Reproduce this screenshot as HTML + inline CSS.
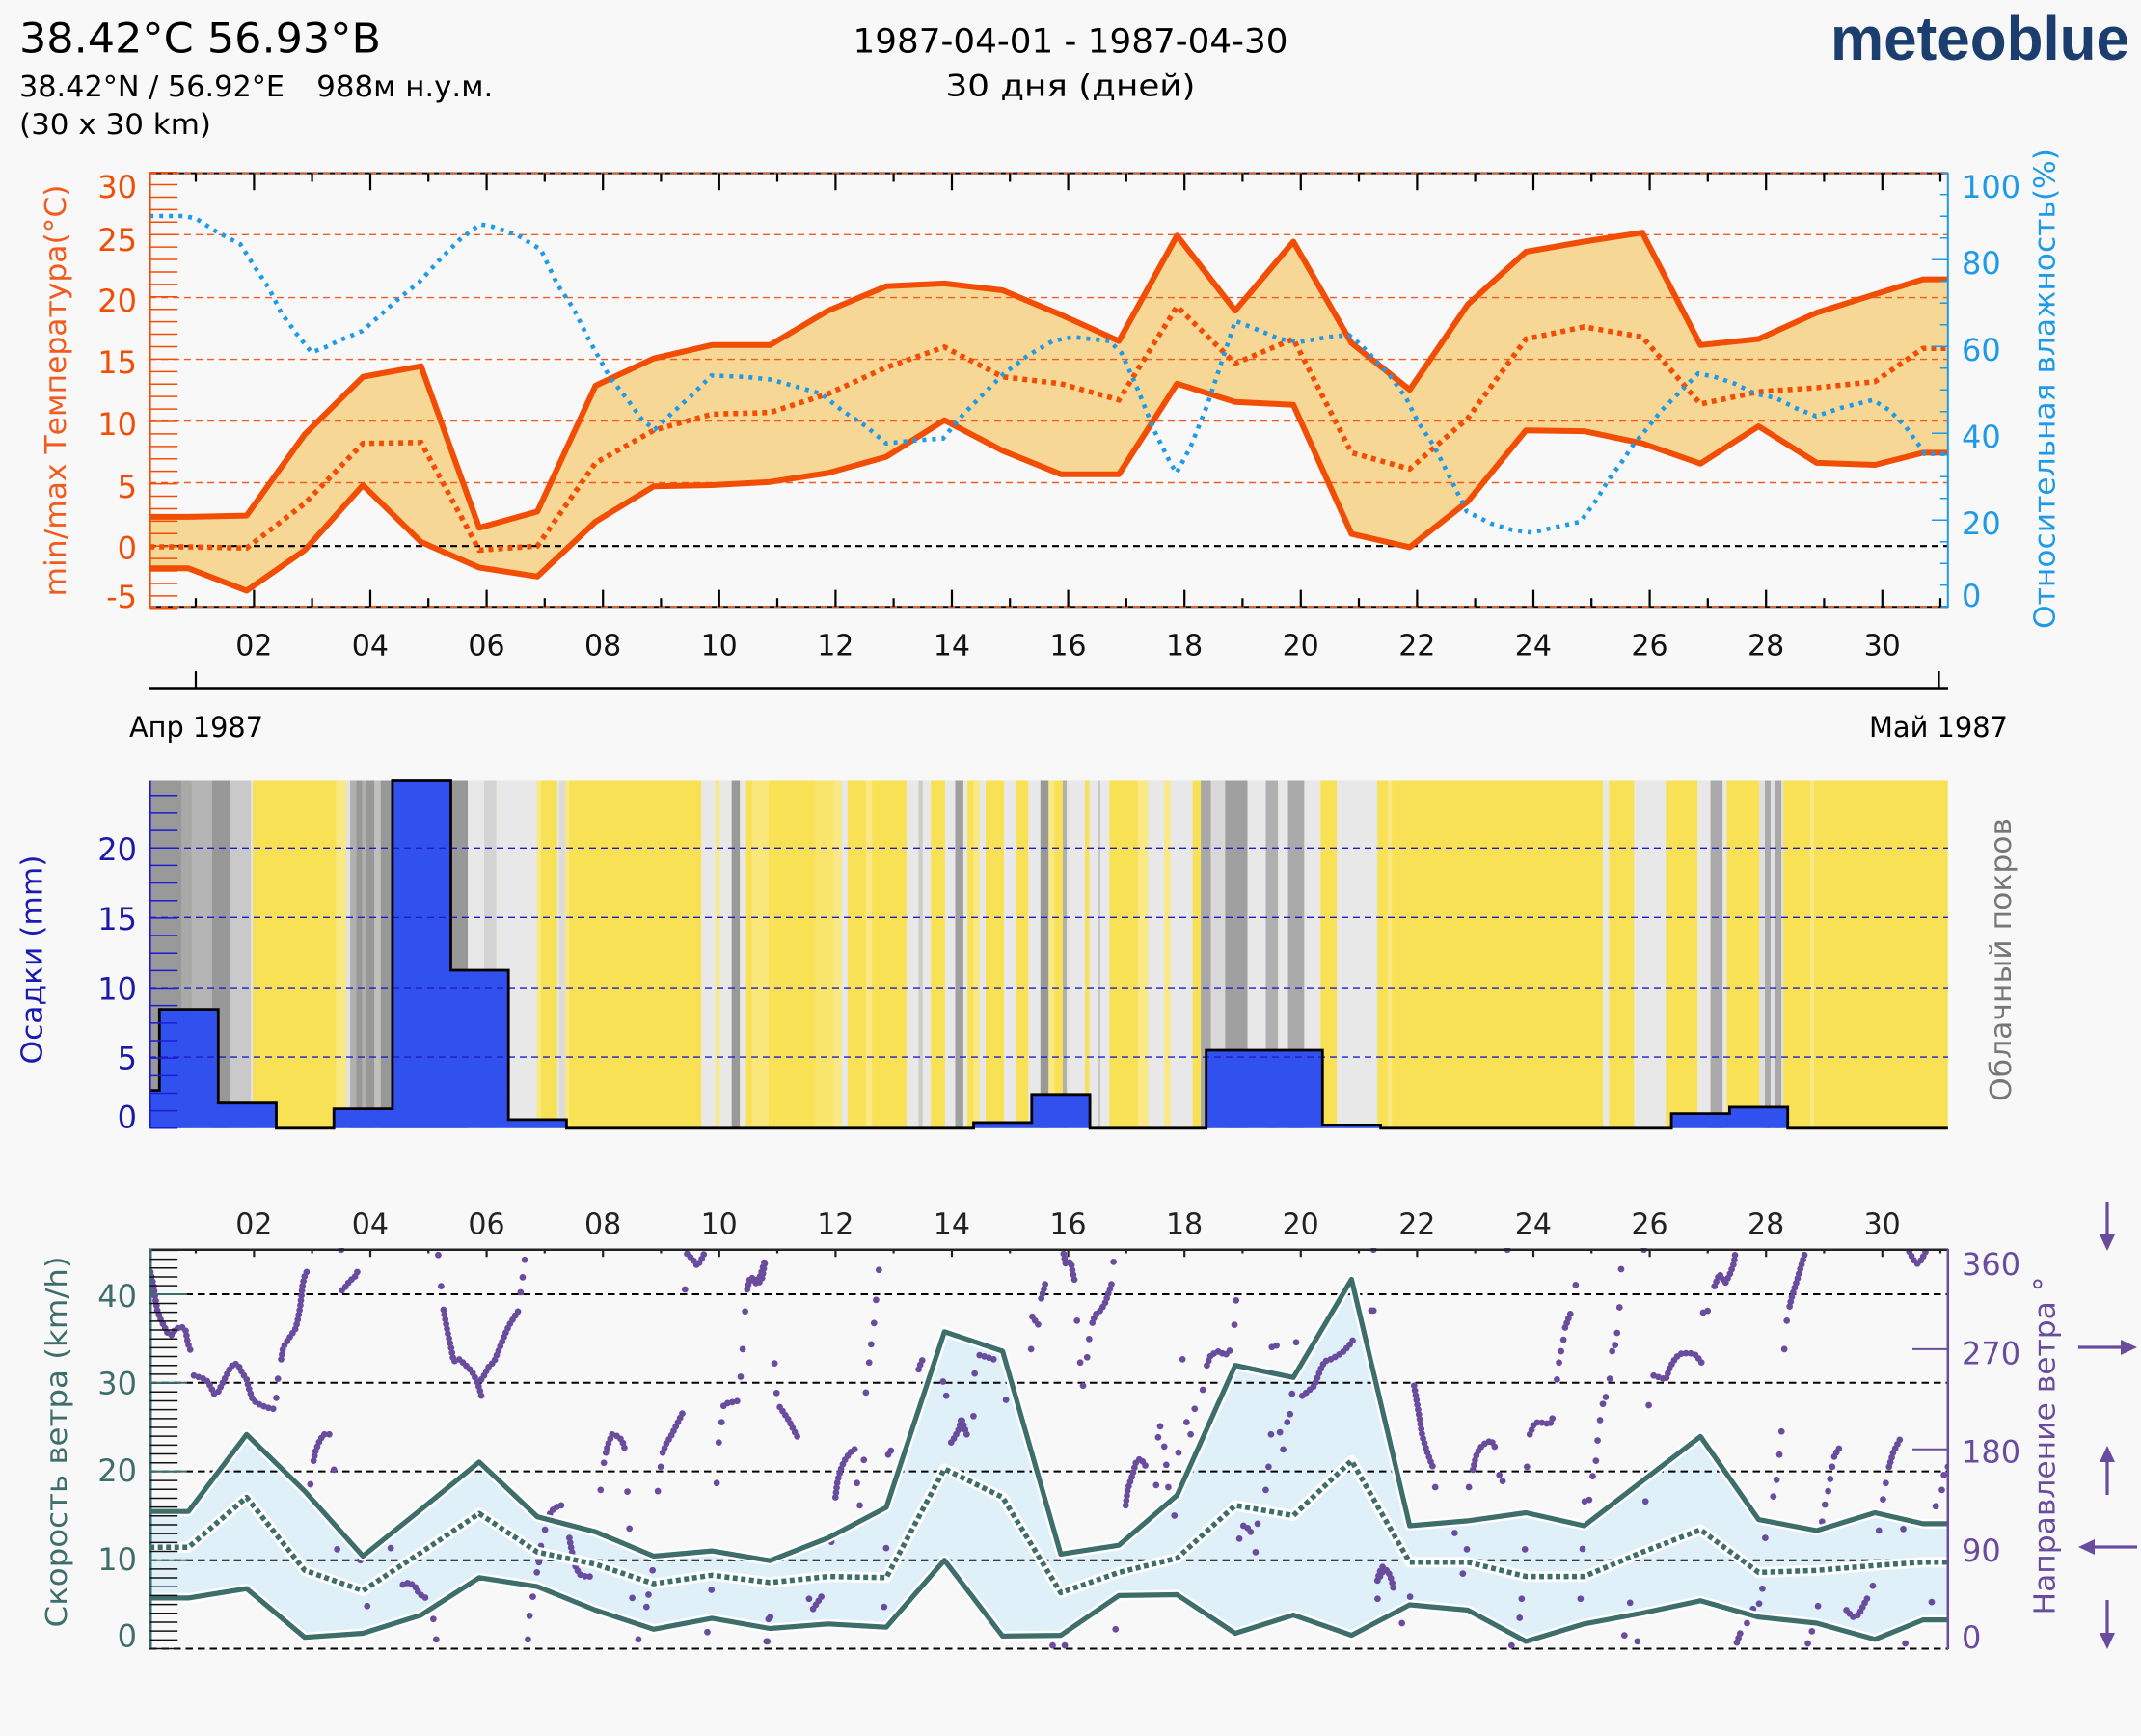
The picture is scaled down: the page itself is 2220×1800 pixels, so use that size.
<!DOCTYPE html>
<html><head><meta charset="utf-8"><style>
html,body{margin:0;padding:0;background:#f8f8f8;}
svg{display:block;}
text{font-family:"DejaVu Sans","Liberation Sans",sans-serif;}
</style></head><body>
<svg xmlns="http://www.w3.org/2000/svg" width="2220" height="1800" viewBox="0 0 2220 1800">
<defs>
<clipPath id="tc"><rect x="155" y="179" width="1865" height="451"/></clipPath>
<clipPath id="wc"><rect x="155" y="1294" width="1865" height="417"/></clipPath>
</defs>
<rect width="2220" height="1800" fill="#f8f8f8"/>

<!-- HEADER -->
<text x="20" y="54.5" font-size="43" fill="#000" textLength="375" lengthAdjust="spacingAndGlyphs">38.42°C 56.93°B</text>
<text x="20" y="100" font-size="30" fill="#000" textLength="275" lengthAdjust="spacingAndGlyphs">38.42°N / 56.92°E</text>
<text x="328.3" y="100" font-size="30" fill="#000" textLength="183" lengthAdjust="spacingAndGlyphs">988м н.у.м.</text>
<text x="20" y="139" font-size="29" fill="#000" textLength="199" lengthAdjust="spacingAndGlyphs">(30 x 30 km)</text>
<text x="1110" y="54.5" font-size="35" fill="#000" text-anchor="middle" textLength="451" lengthAdjust="spacingAndGlyphs">1987-04-01 - 1987-04-30</text>
<text x="1110" y="99.5" font-size="31" fill="#000" text-anchor="middle" textLength="259" lengthAdjust="spacingAndGlyphs">30 дня (дней)</text>
<text x="1898" y="62" font-size="64" font-weight="bold" fill="#1c3e6e" style="font-family:'Liberation Sans',sans-serif" textLength="310" lengthAdjust="spacingAndGlyphs">meteoblue</text>

<!-- TOP CHART -->
<g clip-path="url(#tc)">
<polygon fill="#f7d795" points="155.2,535.9 195.4,535.9 255.7,534.6 316.0,450.4 376.3,390.7 436.6,379.7 496.9,547.2 557.2,530.4 617.5,399.9 677.8,371.7 738.1,357.8 798.4,357.8 858.7,322.1 919.0,296.8 979.3,293.9 1039.6,301.0 1099.9,326.3 1160.2,353.6 1220.5,244.2 1280.8,322.1 1341.1,250.5 1401.4,355.7 1461.7,404.1 1522.0,315.7 1582.3,261.0 1642.6,250.5 1702.9,241.2 1763.2,357.8 1823.5,351.5 1883.8,324.2 1944.1,305.2 1994,289.6 2019.8,289.6 2019.8,469.4 1994,469.4 1944.1,482.0 1883.8,479.9 1823.5,442.0 1763.2,480.7 1702.9,459.7 1642.6,447.1 1582.3,446.2 1522.0,519.9 1461.7,567.4 1401.4,553.6 1341.1,419.7 1280.8,416.8 1220.5,397.8 1160.2,491.7 1099.9,491.7 1039.6,467.3 979.3,435.7 919.0,473.6 858.7,490.4 798.4,499.7 738.1,503.0 677.8,504.3 617.5,540.9 557.2,597.8 496.9,588.5 436.6,562.0 376.3,503.0 316.0,570.4 255.7,612.5 195.4,589.3 155.2,589.3"/>
<g stroke="#f25a1e" stroke-width="1.4" stroke-dasharray="7 5" fill="none">
<line x1="155" y1="243.3" x2="2020" y2="243.3"/>
<line x1="155" y1="308.6" x2="2020" y2="308.6"/>
<line x1="155" y1="372.6" x2="2020" y2="372.6"/>
<line x1="155" y1="436.5" x2="2020" y2="436.5"/>
<line x1="155" y1="500.5" x2="2020" y2="500.5"/>
</g>
<line x1="155" y1="566.2" x2="2020" y2="566.2" stroke="#000" stroke-width="2.2" stroke-dasharray="7 5"/>
<polyline fill="none" stroke="#f24d05" stroke-width="6" stroke-linejoin="round" points="155.2,535.9 195.4,535.9 255.7,534.6 316.0,450.4 376.3,390.7 436.6,379.7 496.9,547.2 557.2,530.4 617.5,399.9 677.8,371.7 738.1,357.8 798.4,357.8 858.7,322.1 919.0,296.8 979.3,293.9 1039.6,301.0 1099.9,326.3 1160.2,353.6 1220.5,244.2 1280.8,322.1 1341.1,250.5 1401.4,355.7 1461.7,404.1 1522.0,315.7 1582.3,261.0 1642.6,250.5 1702.9,241.2 1763.2,357.8 1823.5,351.5 1883.8,324.2 1944.1,305.2 1994,289.6 2019.8,289.6"/>
<polyline fill="none" stroke="#f24d05" stroke-width="6" stroke-linejoin="round" points="155.2,589.3 195.4,589.3 255.7,612.5 316.0,570.4 376.3,503.0 436.6,562.0 496.9,588.5 557.2,597.8 617.5,540.9 677.8,504.3 738.1,503.0 798.4,499.7 858.7,490.4 919.0,473.6 979.3,435.7 1039.6,467.3 1099.9,491.7 1160.2,491.7 1220.5,397.8 1280.8,416.8 1341.1,419.7 1401.4,553.6 1461.7,567.4 1522.0,519.9 1582.3,446.2 1642.6,447.1 1702.9,459.7 1763.2,480.7 1823.5,442.0 1883.8,479.9 1944.1,482.0 1994,469.4 2019.8,469.4"/>
<polyline fill="none" stroke="#f24d05" stroke-width="5.5" stroke-dasharray="5 5" points="155.2,567.0 195.4,567.0 255.7,568.3 316.0,522.0 376.3,459.7 436.6,458.8 496.9,570.4 557.2,566.2 617.5,479.9 677.8,446.2 738.1,429.4 798.4,427.7 858.7,408.3 919.0,381.0 979.3,359.9 1039.6,390.7 1099.9,397.8 1160.2,414.7 1220.5,317.8 1280.8,376.8 1341.1,351.5 1401.4,469.4 1461.7,486.2 1522.0,433.6 1582.3,351.5 1642.6,338.9 1702.9,349.4 1763.2,418.9 1823.5,406.2 1883.8,402.0 1944.1,395.7 1994,361.2 2019.8,361.2"/>
<polyline fill="none" stroke="#1e9ae8" stroke-width="4.6" stroke-dasharray="4 6" points="155.2,224.0 190.5,224.0 203.1,226.5 224.2,240.0 249.4,253.4 262.1,273.6 278.9,298.9 291.5,324.2 308.4,347.3 323.1,365.4 337.8,359.9 350.5,353.6 375.7,343.1 392.5,328.4 413.6,309.4 434.6,292.6 455.7,269.4 476.7,248.4 497.8,232.4 510.4,234.9 535.7,243.3 560.9,258.9 577.8,294.7 594.6,319.9 611.4,353.6 632.5,391.5 649.3,412.5 666.1,435.7 678.8,445.4 695.6,429.4 716.7,410.4 737.7,389.4 771.4,390.7 800.0,393.6 822.1,399.9 851.6,408.3 872.6,425.2 897.9,442.0 918.9,459.7 948.4,456.7 977.8,454.6 998.9,429.4 1019.9,408.3 1041.0,387.3 1066.2,368.4 1091.5,353.6 1112.5,349.4 1150.4,353.6 1163.0,366.2 1179.9,404.1 1196.7,446.2 1213.5,479.9 1219.9,490.4 1234.6,463.1 1251.4,421.0 1268.3,370.5 1280.9,332.6 1301.9,341.0 1327.2,351.5 1348.2,354.5 1377.7,349.4 1398.7,347.3 1411.4,357.8 1441.0,389.4 1457.9,412.5 1470.5,437.8 1487.3,463.1 1504.2,496.7 1521.0,530.4 1546.3,543.0 1567.3,549.3 1588.4,552.3 1613.6,546.4 1638.9,540.9 1655.7,517.8 1668.3,496.7 1681.0,479.9 1693.6,461.0 1706.2,446.2 1723.1,425.2 1744.1,404.1 1760.9,387.3 1777.8,390.7 1798.8,397.8 1819.9,408.3 1840.9,412.5 1862.0,423.1 1883.0,431.5 1908.3,423.1 1941.9,414.7 1958.8,425.2 1975.6,442.0 1992.4,465.2 1995.8,470.6 2019.8,470.6"/>
</g>
<!-- top chart frame -->
<line x1="155" y1="179.6" x2="2020" y2="179.6" stroke="#000" stroke-width="2"/>
<line x1="155" y1="179.6" x2="2020" y2="179.6" stroke="#f25a1e" stroke-width="1.5" stroke-dasharray="7 5"/>
<line x1="155" y1="629.3" x2="2020" y2="629.3" stroke="#000" stroke-width="2"/>
<line x1="155" y1="629.3" x2="2020" y2="629.3" stroke="#f25a1e" stroke-width="1.5" stroke-dasharray="7 5"/>
<line x1="155.6" y1="179" x2="155.6" y2="630" stroke="#f24d05" stroke-width="2"/>
<line x1="2019.8" y1="179" x2="2019.8" y2="630" stroke="#1e9ae8" stroke-width="2"/>
<line x1="169.8" y1="631.55" x2="169.8" y2="178" stroke="#f24d05" stroke-width="28.8" stroke-dasharray="1.5 11.42"/>
<line x1="2015.8" y1="630.05" x2="2015.8" y2="179" stroke="#1e9ae8" stroke-width="8" stroke-dasharray="1.5 21"/>
<g stroke="#1e9ae8" stroke-width="1.5">
<line x1="2003" y1="539.3" x2="2020" y2="539.3"/><line x1="2003" y1="449.3" x2="2020" y2="449.3"/>
<line x1="2003" y1="359.3" x2="2020" y2="359.3"/><line x1="2003" y1="269.3" x2="2020" y2="269.3"/>
</g>
<line x1="262.3" y1="188.45" x2="2020" y2="188.45" stroke="#000" stroke-width="17.7" stroke-dasharray="2.2 118.4"/>
<line x1="201.9" y1="184" x2="2020" y2="184" stroke="#000" stroke-width="9" stroke-dasharray="2.2 118.4"/>
<line x1="262.3" y1="620.45" x2="2020" y2="620.45" stroke="#000" stroke-width="17.7" stroke-dasharray="2.2 118.4"/>
<line x1="201.9" y1="624.8" x2="2020" y2="624.8" stroke="#000" stroke-width="9" stroke-dasharray="2.2 118.4"/>

<g font-size="32" fill="#f24d05" text-anchor="end">
<text x="142" y="205">30</text><text x="142" y="260">25</text><text x="142" y="323">20</text>
<text x="142" y="387">15</text><text x="142" y="451">10</text><text x="142" y="516">5</text>
<text x="142" y="579.5">0</text><text x="142" y="630">-5</text>
</g>
<g font-size="32" fill="#1e9ae8">
<text x="2034" y="205">100</text><text x="2034" y="284">80</text><text x="2034" y="374">60</text>
<text x="2034" y="464">40</text><text x="2034" y="554">20</text><text x="2034" y="629">0</text>
</g>
<g font-size="30" fill="#111" text-anchor="middle">
<text x="263.3" y="679.5">02</text><text x="383.9" y="679.5">04</text><text x="504.5" y="679.5">06</text>
<text x="625.1" y="679.5">08</text><text x="745.7" y="679.5">10</text><text x="866.3" y="679.5">12</text>
<text x="986.9" y="679.5">14</text><text x="1107.5" y="679.5">16</text><text x="1228.1" y="679.5">18</text>
<text x="1348.7" y="679.5">20</text><text x="1469.3" y="679.5">22</text><text x="1589.9" y="679.5">24</text>
<text x="1710.5" y="679.5">26</text><text x="1831.1" y="679.5">28</text><text x="1951.7" y="679.5">30</text>
</g>
<text transform="translate(58.5,405) rotate(-90)" font-size="30" fill="#f25a1e" text-anchor="middle" dominant-baseline="central" textLength="427" lengthAdjust="spacingAndGlyphs">min/max Температура(°C)</text>
<text transform="translate(2121,403) rotate(-90)" font-size="30" fill="#1e9ae8" text-anchor="middle" dominant-baseline="central" textLength="498" lengthAdjust="spacingAndGlyphs">Относительная влажность(%)</text>

<!-- timeline -->
<line x1="155" y1="713.5" x2="2020" y2="713.5" stroke="#000" stroke-width="2.5"/>
<line x1="203" y1="696" x2="203" y2="713.5" stroke="#000" stroke-width="2.2"/>
<line x1="2010.5" y1="696" x2="2010.5" y2="713.5" stroke="#000" stroke-width="2.2"/>
<text x="134" y="764" font-size="29" fill="#000" textLength="139" lengthAdjust="spacingAndGlyphs">Апр 1987</text>
<text x="2010" y="764" font-size="29" fill="#000" text-anchor="middle" textLength="144" lengthAdjust="spacingAndGlyphs">Май 1987</text>

<!-- PRECIP / CLOUD -->
<rect x="155.2" y="809.5" width="1864.6" height="360.3" fill="#f9e155"/>
<g>
<rect x="155.2" y="809.5" width="33.2" height="360.3" fill="#999"/>
<rect x="188.4" y="809.5" width="10.5" height="360.3" fill="#a9a9a9"/>
<rect x="198.9" y="809.5" width="21.1" height="360.3" fill="#b5b5b5"/>
<rect x="220.0" y="809.5" width="18.9" height="360.3" fill="#989898"/>
<rect x="238.9" y="809.5" width="21.1" height="360.3" fill="#c9c9c9"/>
<rect x="260.0" y="809.5" width="2.1" height="360.3" fill="#e2e2e2"/>
<rect x="348.4" y="809.5" width="10.5" height="360.3" fill="#f9e884"/>
<rect x="358.9" y="809.5" width="4.2" height="360.3" fill="#e2e2e2"/>
<rect x="363.1" y="809.5" width="6.3" height="360.3" fill="#b0b0b0"/>
<rect x="369.4" y="809.5" width="6.3" height="360.3" fill="#989898"/>
<rect x="375.7" y="809.5" width="4.2" height="360.3" fill="#b0b0b0"/>
<rect x="379.9" y="809.5" width="8.4" height="360.3" fill="#989898"/>
<rect x="388.3" y="809.5" width="6.4" height="360.3" fill="#c0c0c0"/>
<rect x="394.7" y="809.5" width="90.4" height="360.3" fill="#989898"/>
<rect x="485.1" y="809.5" width="16.9" height="360.3" fill="#e8e8e8"/>
<rect x="502.0" y="809.5" width="12.6" height="360.3" fill="#d4d4d4"/>
<rect x="514.6" y="809.5" width="42.1" height="360.3" fill="#e8e8e8"/>
<rect x="556.7" y="809.5" width="4.2" height="360.3" fill="#f9e884"/>
<rect x="577.8" y="809.5" width="2.0" height="360.3" fill="#e8e8e8"/>
<rect x="579.8" y="809.5" width="6.4" height="360.3" fill="#dcdcdc"/>
<rect x="586.2" y="809.5" width="4.2" height="360.3" fill="#f9e884"/>
<rect x="727.2" y="809.5" width="14.7" height="360.3" fill="#e8e8e8"/>
<rect x="741.9" y="809.5" width="4.2" height="360.3" fill="#f9e884"/>
<rect x="746.1" y="809.5" width="12.6" height="360.3" fill="#e8e8e8"/>
<rect x="758.7" y="809.5" width="8.5" height="360.3" fill="#999"/>
<rect x="767.2" y="809.5" width="6.3" height="360.3" fill="#e8e8e8"/>
<rect x="779.8" y="809.5" width="17.0" height="360.3" fill="#f9e77c"/>
<rect x="845.2" y="809.5" width="19.0" height="360.3" fill="#f9e46c"/>
<rect x="864.2" y="809.5" width="8.4" height="360.3" fill="#f9e884"/>
<rect x="872.6" y="809.5" width="6.3" height="360.3" fill="#e8e8e8"/>
<rect x="897.9" y="809.5" width="6.3" height="360.3" fill="#f9e884"/>
<rect x="940.0" y="809.5" width="12.6" height="360.3" fill="#e8e8e8"/>
<rect x="952.6" y="809.5" width="4.2" height="360.3" fill="#cccccc"/>
<rect x="956.8" y="809.5" width="8.4" height="360.3" fill="#e8e8e8"/>
<rect x="979.9" y="809.5" width="10.6" height="360.3" fill="#e8e8e8"/>
<rect x="990.5" y="809.5" width="8.4" height="360.3" fill="#a0a0a0"/>
<rect x="998.9" y="809.5" width="4.2" height="360.3" fill="#e8e8e8"/>
<rect x="1009.4" y="809.5" width="6.3" height="360.3" fill="#f9e884"/>
<rect x="1015.7" y="809.5" width="6.3" height="360.3" fill="#e8e8e8"/>
<rect x="1041.0" y="809.5" width="12.6" height="360.3" fill="#e8e8e8"/>
<rect x="1066.2" y="809.5" width="12.6" height="360.3" fill="#e8e8e8"/>
<rect x="1078.8" y="809.5" width="8.5" height="360.3" fill="#999"/>
<rect x="1087.3" y="809.5" width="6.3" height="360.3" fill="#f9e884"/>
<rect x="1102.0" y="809.5" width="4.2" height="360.3" fill="#b0b0b0"/>
<rect x="1106.2" y="809.5" width="18.9" height="360.3" fill="#e8e8e8"/>
<rect x="1129.4" y="809.5" width="21.0" height="360.3" fill="#e8e8e8"/>
<rect x="1138" y="809.5" width="3" height="360.3" fill="#c8c8c8"/>
<rect x="1179.9" y="809.5" width="10.5" height="360.3" fill="#f9e884"/>
<rect x="1190.4" y="809.5" width="16.8" height="360.3" fill="#e8e8e8"/>
<rect x="1207.2" y="809.5" width="6.3" height="360.3" fill="#f9e884"/>
<rect x="1213.5" y="809.5" width="23.2" height="360.3" fill="#e8e8e8"/>
<rect x="1245.1" y="809.5" width="10.5" height="360.3" fill="#a8a8a8"/>
<rect x="1255.6" y="809.5" width="14.8" height="360.3" fill="#d8d8d8"/>
<rect x="1270.4" y="809.5" width="23.1" height="360.3" fill="#a0a0a0"/>
<rect x="1293.5" y="809.5" width="19.0" height="360.3" fill="#e8e8e8"/>
<rect x="1312.5" y="809.5" width="12.6" height="360.3" fill="#b0b0b0"/>
<rect x="1325.1" y="809.5" width="10.5" height="360.3" fill="#e8e8e8"/>
<rect x="1335.6" y="809.5" width="16.8" height="360.3" fill="#aaaaaa"/>
<rect x="1352.4" y="809.5" width="16.9" height="360.3" fill="#e8e8e8"/>
<rect x="1386.1" y="809.5" width="42.1" height="360.3" fill="#e8e8e8"/>
<rect x="1438.9" y="809.5" width="4.3" height="360.3" fill="#f9e884"/>
<rect x="1662.0" y="809.5" width="6.3" height="360.3" fill="#e8e8e8"/>
<rect x="1694.4" y="809.5" width="32.9" height="360.3" fill="#e8e8e8"/>
<rect x="1760.1" y="809.5" width="13.5" height="360.3" fill="#e8e8e8"/>
<rect x="1773.6" y="809.5" width="12.6" height="360.3" fill="#aaaaaa"/>
<rect x="1786.2" y="809.5" width="4.2" height="360.3" fill="#e8e8e8"/>
<rect x="1824.1" y="809.5" width="6" height="360.3" fill="#e0e0e0"/>
<rect x="1830" y="809.5" width="6" height="360.3" fill="#aaaaaa"/>
<rect x="1836" y="809.5" width="5" height="360.3" fill="#e0e0e0"/>
<rect x="1841" y="809.5" width="6.2" height="360.3" fill="#a8a8a8"/>
<rect x="1847.2" y="809.5" width="2.1" height="360.3" fill="#e0e0e0"/>
<rect x="1876.7" y="809.5" width="4.2" height="360.3" fill="#f9e884"/>
</g>
<path fill="#3151ee" d="M155.2,1169.8 V1130.6 H165.3 V1046.6 H226.3 V1143.7 H286.5 V1169.8 H346.2 V1149.6 H406.9 V809.5 H467.5 V1006.0 H527.2 V1160.9 H587.4 V1169.8 H1009.5 V1163.9 H1069.8 V1134.8 H1130.1 V1169.8 H1250.7 V1089.0 H1371.3 V1166.4 H1431.6 V1169.8 H1733.1 V1154.6 H1793.4 V1147.9 H1853.7 V1169.8 Z"/>
<g stroke="#1c1cc8" stroke-width="1.4" stroke-dasharray="7 5" fill="none">
<line x1="155" y1="879.3" x2="2020" y2="879.3"/>
<line x1="155" y1="951.3" x2="2020" y2="951.3"/>
<line x1="155" y1="1024.1" x2="2020" y2="1024.1"/>
<line x1="155" y1="1096.1" x2="2020" y2="1096.1"/>
</g>
<path fill="none" stroke="#000" stroke-width="2.8" d="M155.2,1130.6 H165.3 V1046.6 H226.3 V1143.7 H286.5 V1169.8 H346.2 V1149.6 H406.9 V809.5 H467.5 V1006.0 H527.2 V1160.9 H587.4 V1169.8 H1009.5 V1163.9 H1069.8 V1134.8 H1130.1 V1169.8 H1250.7 V1089.0 H1371.3 V1166.4 H1431.6 V1169.8 H1733.1 V1154.6 H1793.4 V1147.9 H1853.7 V1169.8 H2019.8"/>
<line x1="155.6" y1="809.5" x2="155.6" y2="1170" stroke="#1c1cd0" stroke-width="2"/>
<line x1="169.8" y1="1170.55" x2="169.8" y2="812" stroke="#1c1cd0" stroke-width="28.8" stroke-dasharray="1.5 16.66"/>
<g font-size="32" fill="#1a1aa8" text-anchor="end">
<text x="142" y="892">20</text><text x="142" y="964">15</text><text x="142" y="1036.5">10</text>
<text x="142" y="1108.5">5</text><text x="142" y="1169.5">0</text>
</g>
<text transform="translate(34,995) rotate(-90)" font-size="30" fill="#1a1ab4" text-anchor="middle" dominant-baseline="central" textLength="217" lengthAdjust="spacingAndGlyphs">Осадки (mm)</text>
<text transform="translate(2075.6,995) rotate(-90)" font-size="30" fill="#777" text-anchor="middle" dominant-baseline="central" textLength="294" lengthAdjust="spacingAndGlyphs">Облачный покров</text>

<!-- WIND CHART -->
<polygon fill="#e0f0f9" points="155.2,1567.2 195.4,1567.2 255.7,1487.3 316.0,1546.2 376.3,1613.5 436.6,1565.1 496.9,1515.9 557.2,1572.7 617.5,1588.3 677.8,1613.5 738.1,1608.1 798.4,1618.2 858.7,1594.6 919.0,1563.0 979.3,1380.8 1039.6,1401.0 1099.9,1611.4 1160.2,1602.2 1220.5,1550.4 1280.8,1415.7 1341.1,1428.3 1401.4,1326.5 1461.7,1582.0 1522.0,1576.9 1582.3,1568.5 1642.6,1582.0 1702.9,1535.7 1763.2,1489.4 1823.5,1575.6 1883.8,1587.0 1944.1,1568.5 1994,1579.9 2019.8,1579.9 2019.8,1679.6 1994,1679.6 1944.1,1699.8 1883.8,1683.0 1823.5,1676.7 1763.2,1659.8 1702.9,1672.5 1642.6,1683.8 1582.3,1701.9 1522.0,1669.5 1461.7,1664.0 1401.4,1695.6 1341.1,1674.6 1280.8,1693.5 1220.5,1653.5 1160.2,1654.4 1099.9,1695.6 1039.6,1696.4 979.3,1617.7 919.0,1687.2 858.7,1683.8 798.4,1688.5 738.1,1677.9 677.8,1689.3 617.5,1669.5 557.2,1645.1 496.9,1635.8 436.6,1674.6 376.3,1693.5 316.0,1697.7 255.7,1647.2 195.4,1656.9 155.2,1656.9"/>
<g stroke="#000" stroke-width="2" stroke-dasharray="7.5 5" fill="none">
<line x1="155" y1="1342.0" x2="2020" y2="1342.0"/>
<line x1="155" y1="1433.8" x2="2020" y2="1433.8"/>
<line x1="155" y1="1525.6" x2="2020" y2="1525.6"/>
<line x1="155" y1="1617.7" x2="2020" y2="1617.7"/>
<line x1="155" y1="1709.5" x2="2020" y2="1709.5"/>
</g>
<!-- wind direction dots -->
<g clip-path="url(#wc)" fill="#6a4c9e" stroke="#6a4c9e">
<g transform="translate(140,1140) scale(0.42091)">
<g fill="none" stroke-width="16" stroke-linecap="round" stroke-linejoin="round" stroke-dasharray="0 12">
<polyline points="38,425 45,455 50,490 55,520 62,540 70,555 80,575 90,580 100,565 115,560 125,570 130,600 138,622"/>
<polyline points="145,680 160,685 175,690 185,705 195,725 205,720 215,700 225,680 235,660 245,650 255,655 265,675 275,690 280,710 290,740 300,748 315,755 330,760 345,763"/>
<polyline points="360,640 365,610 375,595 385,580 395,565 400,548 407,510 413,455 418,435 425,420"/>
<polyline points="440,890 445,865 455,840 465,825 480,825 490,825"/>
<polyline points="510,470 520,460 530,445 540,440 550,420"/>
<polyline points="660,1195 675,1190 690,1200 700,1218 720,1230"/>
<polyline points="760,518 765,545 770,573 778,608 785,645 800,640 815,655 830,670 840,690 848,710 853,730"/>
<polyline points="853,690 860,680 870,660 885,645 895,620 905,595 915,570 925,550 935,535 945,520"/>
<polyline points="1015,1030 1030,1010 1045,1000 1060,1000"/>
<polyline points="1070,1080 1075,1108 1085,1150 1095,1170 1110,1175 1125,1175"/>
<polyline points="1160,870 1165,850 1175,825 1190,830 1200,840 1207,862"/>
<polyline points="1300,870 1310,845 1320,830 1330,810 1340,790 1350,770"/>
<polyline points="1360,380 1375,395 1385,410 1395,395 1405,373"/>
<polyline points="1450,755 1460,748 1475,745 1488,742"/>
<polyline points="1508,468 1515,440 1525,450 1535,455 1545,440 1552,400"/>
</g>
<g stroke="none">
<circle cx="348" cy="735" r="8"/><circle cx="352" cy="688" r="8"/><circle cx="490" cy="912" r="8"/><circle cx="432" cy="948" r="8"/>
<circle cx="508" cy="370" r="8"/><circle cx="498" cy="1108" r="8"/><circle cx="555" cy="1135" r="8"/><circle cx="572" cy="1248" r="8"/>
<circle cx="630" cy="1105" r="8"/><circle cx="735" cy="1280" r="8"/><circle cx="742" cy="1330" r="8"/><circle cx="747" cy="383" r="8"/>
<circle cx="754" cy="460" r="8"/><circle cx="950" cy="475" r="8"/><circle cx="955" cy="438" r="8"/><circle cx="960" cy="395" r="8"/>
<circle cx="1010" cy="1060" r="8"/><circle cx="1000" cy="1100" r="8"/><circle cx="995" cy="1140" r="8"/><circle cx="990" cy="1165" r="8"/>
<circle cx="980" cy="1225" r="8"/><circle cx="972" cy="1272" r="8"/><circle cx="968" cy="1330" r="8"/><circle cx="1147" cy="962" r="8"/>
<circle cx="1155" cy="895" r="8"/><circle cx="1213" cy="966" r="8"/><circle cx="1218" cy="1057" r="8"/><circle cx="1225" cy="1228" r="8"/>
<circle cx="1240" cy="1330" r="8"/><circle cx="1260" cy="1250" r="8"/><circle cx="1265" cy="1220" r="8"/><circle cx="1275" cy="1160" r="8"/>
<circle cx="1288" cy="965" r="8"/><circle cx="1295" cy="905" r="8"/><circle cx="1355" cy="468" r="8"/><circle cx="1410" cy="1312" r="8"/>
<circle cx="1420" cy="1208" r="8"/><circle cx="1433" cy="945" r="8"/><circle cx="1438" cy="845" r="8"/><circle cx="1445" cy="795" r="8"/>
<circle cx="1492" cy="683" r="8"/><circle cx="1497" cy="615" r="8"/><circle cx="1503" cy="522" r="8"/><circle cx="1558" cy="1335" r="8"/>
<circle cx="1565" cy="1275" r="8"/>
</g>
</g>
<g transform="translate(780,1140) scale(0.42091)">
<g fill="none" stroke-width="16" stroke-linecap="round" stroke-linejoin="round" stroke-dasharray="0 12">
<polyline points="0,440 10,445 20,435 30,400"/>
<polyline points="68,758 80,775 90,790 100,810 108,825 115,838"/>
<polyline points="150,1255 160,1240 175,1218"/>
<polyline points="205,980 210,940 220,905 230,885 245,865 255,860"/>
<polyline points="335,875 345,860"/>
<polyline points="410,665 415,650 420,640"/>
<polyline points="490,845 500,830 510,810 515,785 530,830"/>
<polyline points="560,630 580,635 595,640"/>
<polyline points="690,535 700,550 705,555"/>
<polyline points="712,490 718,470 722,453"/>
<polyline points="767,380 772,405 785,400 790,428 795,450"/>
<polyline points="838,550 845,530 858,520 870,500 875,485 885,455"/>
<polyline points="920,1000 925,960 935,930 945,895 955,885 965,895 970,905"/>
<polyline points="1090,762 1100,760"/>
<polyline points="1120,655 1130,628 1140,625 1150,620 1165,630 1180,615"/>
<polyline points="1210,1050 1220,1055 1230,1068"/>
<polyline points="1280,610 1295,605"/>
<polyline points="1355,730 1370,718 1385,705 1400,665 1410,645 1425,640 1440,632 1455,622 1465,612 1475,600 1485,585"/>
<polyline points="1540,1185 1545,1165 1555,1148"/>
</g>
<g stroke="none">
<circle cx="55" cy="650" r="8"/><circle cx="60" cy="723" r="8"/><circle cx="40" cy="1280" r="8"/><circle cx="35" cy="1335" r="8"/>
<circle cx="140" cy="1230" r="8"/><circle cx="258" cy="945" r="8"/><circle cx="265" cy="1000" r="8"/><circle cx="275" cy="888" r="8"/>
<circle cx="280" cy="722" r="8"/><circle cx="288" cy="648" r="8"/><circle cx="293" cy="603" r="8"/><circle cx="300" cy="551" r="8"/>
<circle cx="305" cy="494" r="8"/><circle cx="312" cy="420" r="8"/><circle cx="195" cy="1090" r="8"/><circle cx="330" cy="1105" r="8"/>
<circle cx="325" cy="1250" r="8"/><circle cx="470" cy="695" r="8"/><circle cx="478" cy="730" r="8"/><circle cx="545" cy="780" r="8"/>
<circle cx="548" cy="675" r="8"/><circle cx="625" cy="740" r="8"/><circle cx="687" cy="615" r="8"/><circle cx="800" cy="545" r="8"/>
<circle cx="808" cy="648" r="8"/><circle cx="815" cy="705" r="8"/><circle cx="825" cy="635" r="8"/><circle cx="830" cy="590" r="8"/>
<circle cx="890" cy="400" r="8"/><circle cx="1000" cy="832" r="8"/><circle cx="1005" cy="805" r="8"/><circle cx="1015" cy="855" r="8"/>
<circle cx="1020" cy="900" r="8"/><circle cx="1025" cy="955" r="8"/><circle cx="995" cy="950" r="8"/><circle cx="1040" cy="1025" r="8"/>
<circle cx="1050" cy="870" r="8"/><circle cx="1060" cy="640" r="8"/><circle cx="1070" cy="795" r="8"/><circle cx="1080" cy="825" r="8"/>
<circle cx="1110" cy="715" r="8"/><circle cx="1188" cy="555" r="8"/><circle cx="1192" cy="495" r="8"/><circle cx="1195" cy="1000" r="8"/>
<circle cx="1200" cy="1082" r="8"/><circle cx="1240" cy="1115" r="8"/><circle cx="1245" cy="1045" r="8"/><circle cx="1265" cy="962" r="8"/>
<circle cx="1272" cy="905" r="8"/><circle cx="1278" cy="825" r="8"/><circle cx="1300" cy="820" r="8"/><circle cx="1308" cy="862" r="8"/>
<circle cx="1318" cy="795" r="8"/><circle cx="1325" cy="775" r="8"/><circle cx="1330" cy="725" r="8"/><circle cx="1340" cy="598" r="8"/>
<circle cx="1525" cy="520" r="8"/><circle cx="1528" cy="675" r="8"/><circle cx="770" cy="1345" r="8"/><circle cx="740" cy="1345" r="8"/>
<circle cx="895" cy="1305" r="8"/><circle cx="55" cy="1505" r="8"/>
</g>
</g>
<g transform="translate(1420,1140) scale(0.42091)">
<g fill="none" stroke-width="16" stroke-linecap="round" stroke-linejoin="round" stroke-dasharray="0 12">
<polyline points="110,705 115,735 120,765 125,795 130,828 140,862 150,890 158,910"/>
<polyline points="20,1185 35,1160 45,1160 55,1185 60,1210"/>
<polyline points="255,912 262,880 270,862 280,850 290,845 300,840 312,862"/>
<polyline points="395,825 405,800 415,795 430,797 445,800 455,775"/>
<polyline points="482,562 490,540 495,528 500,518"/>
<polyline points="530,990 545,985"/>
<polyline points="700,680 715,685 730,690 740,660 755,635 770,625 790,625 805,630 818,648"/>
<polyline points="822,525 835,520"/>
<polyline points="850,460 862,430 877,452 888,430 898,403 902,372"/>
<polyline points="905,1338 915,1310"/>
<polyline points="1035,510 1040,488 1048,462 1055,440 1062,415 1068,395 1075,372"/>
<polyline points="1145,880 1155,860 1165,860"/>
<polyline points="1175,1258 1190,1275 1205,1270 1215,1250 1225,1230 1235,1225"/>
<polyline points="1280,905 1290,870 1300,850 1308,835"/>
<polyline points="1330,375 1340,395 1350,405 1360,395 1370,375"/>
</g>
<g stroke="none">
<circle cx="10" cy="370" r="8"/><circle cx="10" cy="520" r="8"/><circle cx="10" cy="678" r="8"/><circle cx="162" cy="955" r="8"/>
<circle cx="20" cy="1230" r="8"/><circle cx="80" cy="1290" r="8"/><circle cx="100" cy="1225" r="8"/><circle cx="245" cy="955" r="8"/>
<circle cx="320" cy="925" r="8"/><circle cx="328" cy="940" r="8"/><circle cx="210" cy="1068" r="8"/><circle cx="230" cy="1168" r="8"/>
<circle cx="240" cy="1108" r="8"/><circle cx="340" cy="370" r="8"/><circle cx="388" cy="905" r="8"/><circle cx="462" cy="690" r="8"/>
<circle cx="467" cy="648" r="8"/><circle cx="472" cy="620" r="8"/><circle cx="478" cy="592" r="8"/><circle cx="508" cy="457" r="8"/>
<circle cx="383" cy="1108" r="8"/><circle cx="375" cy="1230" r="8"/><circle cx="370" cy="1277" r="8"/><circle cx="350" cy="1345" r="8"/>
<circle cx="525" cy="1107" r="8"/><circle cx="520" cy="1230" r="8"/><circle cx="550" cy="928" r="8"/><circle cx="558" cy="890" r="8"/>
<circle cx="562" cy="840" r="8"/><circle cx="568" cy="790" r="8"/><circle cx="575" cy="750" r="8"/><circle cx="582" cy="733" r="8"/>
<circle cx="592" cy="688" r="8"/><circle cx="598" cy="620" r="8"/><circle cx="605" cy="605" r="8"/><circle cx="610" cy="575" r="8"/>
<circle cx="616" cy="512" r="8"/><circle cx="620" cy="418" r="8"/><circle cx="628" cy="1320" r="8"/><circle cx="660" cy="1335" r="8"/>
<circle cx="642" cy="1240" r="8"/><circle cx="676" cy="370" r="8"/><circle cx="688" cy="753" r="8"/><circle cx="680" cy="990" r="8"/>
<circle cx="930" cy="1290" r="8"/><circle cx="945" cy="1255" r="8"/><circle cx="960" cy="1242" r="8"/><circle cx="968" cy="1205" r="8"/>
<circle cx="975" cy="1080" r="8"/><circle cx="985" cy="1040" r="8"/><circle cx="995" cy="978" r="8"/><circle cx="1003" cy="937" r="8"/>
<circle cx="1010" cy="875" r="8"/><circle cx="1015" cy="818" r="8"/><circle cx="1022" cy="615" r="8"/><circle cx="1028" cy="545" r="8"/>
<circle cx="1080" cy="1340" r="8"/><circle cx="1090" cy="1310" r="8"/><circle cx="1105" cy="1248" r="8"/><circle cx="1115" cy="1040" r="8"/>
<circle cx="1122" cy="998" r="8"/><circle cx="1130" cy="965" r="8"/><circle cx="1135" cy="935" r="8"/><circle cx="1140" cy="905" r="8"/>
<circle cx="1240" cy="1198" r="8"/><circle cx="1255" cy="1062" r="8"/><circle cx="1265" cy="985" r="8"/><circle cx="1272" cy="945" r="8"/>
<circle cx="1315" cy="1058" r="8"/><circle cx="1320" cy="1340" r="8"/><circle cx="1385" cy="1238" r="8"/><circle cx="1395" cy="1002" r="8"/>
<circle cx="1410" cy="962" r="8"/><circle cx="1415" cy="925" r="8"/><circle cx="1425" cy="905" r="8"/>
</g>
</g>
</g>
<!-- wind lines -->
<g fill="none" stroke-linejoin="round">
<polyline stroke="#fff" stroke-width="10" points="155.2,1567.2 195.4,1567.2 255.7,1487.3 316.0,1546.2 376.3,1613.5 436.6,1565.1 496.9,1515.9 557.2,1572.7 617.5,1588.3 677.8,1613.5 738.1,1608.1 798.4,1618.2 858.7,1594.6 919.0,1563.0 979.3,1380.8 1039.6,1401.0 1099.9,1611.4 1160.2,1602.2 1220.5,1550.4 1280.8,1415.7 1341.1,1428.3 1401.4,1326.5 1461.7,1582.0 1522.0,1576.9 1582.3,1568.5 1642.6,1582.0 1702.9,1535.7 1763.2,1489.4 1823.5,1575.6 1883.8,1587.0 1944.1,1568.5 1994,1579.9 2019.8,1579.9"/>
<polyline stroke="#fff" stroke-width="10" points="155.2,1656.9 195.4,1656.9 255.7,1647.2 316.0,1697.7 376.3,1693.5 436.6,1674.6 496.9,1635.8 557.2,1645.1 617.5,1669.5 677.8,1689.3 738.1,1677.9 798.4,1688.5 858.7,1683.8 919.0,1687.2 979.3,1617.7 1039.6,1696.4 1099.9,1695.6 1160.2,1654.4 1220.5,1653.5 1280.8,1693.5 1341.1,1674.6 1401.4,1695.6 1461.7,1664.0 1522.0,1669.5 1582.3,1701.9 1642.6,1683.8 1702.9,1672.5 1763.2,1659.8 1823.5,1676.7 1883.8,1683.0 1944.1,1699.8 1994,1679.6 2019.8,1679.6"/>
<polyline stroke="#fff" stroke-width="11" points="155.2,1604.3 195.4,1604.3 255.7,1552.5 316.0,1628.3 376.3,1649.3 436.6,1609.7 496.9,1569.3 557.2,1609.3 617.5,1621.9 677.8,1642.1 738.1,1633.3 798.4,1640.9 858.7,1634.6 919.0,1635.8 979.3,1523.0 1039.6,1552.5 1099.9,1651.4 1160.2,1630.4 1220.5,1615.6 1280.8,1560.9 1341.1,1571.4 1401.4,1514.6 1461.7,1619.8 1522.0,1619.8 1582.3,1634.6 1642.6,1634.6 1702.9,1609.3 1763.2,1586.2 1823.5,1630.4 1883.8,1628.3 1944.1,1623.2 1994,1619.8 2019.8,1619.8"/>
<polyline stroke="#3e6e6c" stroke-width="5.2" points="155.2,1567.2 195.4,1567.2 255.7,1487.3 316.0,1546.2 376.3,1613.5 436.6,1565.1 496.9,1515.9 557.2,1572.7 617.5,1588.3 677.8,1613.5 738.1,1608.1 798.4,1618.2 858.7,1594.6 919.0,1563.0 979.3,1380.8 1039.6,1401.0 1099.9,1611.4 1160.2,1602.2 1220.5,1550.4 1280.8,1415.7 1341.1,1428.3 1401.4,1326.5 1461.7,1582.0 1522.0,1576.9 1582.3,1568.5 1642.6,1582.0 1702.9,1535.7 1763.2,1489.4 1823.5,1575.6 1883.8,1587.0 1944.1,1568.5 1994,1579.9 2019.8,1579.9"/>
<polyline stroke="#3e6e6c" stroke-width="5.2" points="155.2,1656.9 195.4,1656.9 255.7,1647.2 316.0,1697.7 376.3,1693.5 436.6,1674.6 496.9,1635.8 557.2,1645.1 617.5,1669.5 677.8,1689.3 738.1,1677.9 798.4,1688.5 858.7,1683.8 919.0,1687.2 979.3,1617.7 1039.6,1696.4 1099.9,1695.6 1160.2,1654.4 1220.5,1653.5 1280.8,1693.5 1341.1,1674.6 1401.4,1695.6 1461.7,1664.0 1522.0,1669.5 1582.3,1701.9 1642.6,1683.8 1702.9,1672.5 1763.2,1659.8 1823.5,1676.7 1883.8,1683.0 1944.1,1699.8 1994,1679.6 2019.8,1679.6"/>
<polyline stroke="#3e6e6c" stroke-width="5.5" stroke-dasharray="5 3.5" points="155.2,1604.3 195.4,1604.3 255.7,1552.5 316.0,1628.3 376.3,1649.3 436.6,1609.7 496.9,1569.3 557.2,1609.3 617.5,1621.9 677.8,1642.1 738.1,1633.3 798.4,1640.9 858.7,1634.6 919.0,1635.8 979.3,1523.0 1039.6,1552.5 1099.9,1651.4 1160.2,1630.4 1220.5,1615.6 1280.8,1560.9 1341.1,1571.4 1401.4,1514.6 1461.7,1619.8 1522.0,1619.8 1582.3,1634.6 1642.6,1634.6 1702.9,1609.3 1763.2,1586.2 1823.5,1630.4 1883.8,1628.3 1944.1,1623.2 1994,1619.8 2019.8,1619.8"/>
</g>
<!-- wind axes -->
<line x1="155" y1="1295.7" x2="2020" y2="1295.7" stroke="#222" stroke-width="2.5"/>
<line x1="262.3" y1="1299.45" x2="2020" y2="1299.45" stroke="#222" stroke-width="7.5" stroke-dasharray="2.2 118.4"/>
<line x1="201.9" y1="1297.6" x2="2020" y2="1297.6" stroke="#222" stroke-width="3.8" stroke-dasharray="2.2 118.4"/>
<line x1="156" y1="1295" x2="156" y2="1710" stroke="#3e6e6c" stroke-width="3"/>
<line x1="169.8" y1="1710.25" x2="169.8" y2="1297" stroke="#111" stroke-width="28.8" stroke-dasharray="1.5 7.68"/>
<g stroke="#3e6e6c" stroke-width="2">
<line x1="155" y1="1342.0" x2="194" y2="1342.0"/><line x1="155" y1="1433.8" x2="194" y2="1433.8"/>
<line x1="155" y1="1525.6" x2="194" y2="1525.6"/><line x1="155" y1="1617.7" x2="194" y2="1617.7"/>
</g>
<line x1="2019.8" y1="1295" x2="2019.8" y2="1710" stroke="#6a4c9e" stroke-width="2.5"/>
<g stroke="#6a4c9e" stroke-width="2">
<line x1="1983" y1="1398.9" x2="2020" y2="1398.9"/><line x1="1983" y1="1502.8" x2="2020" y2="1502.8"/>
</g>
<g font-size="30" fill="#222" text-anchor="middle">
<text x="263.3" y="1279.5">02</text><text x="383.9" y="1279.5">04</text><text x="504.5" y="1279.5">06</text>
<text x="625.1" y="1279.5">08</text><text x="745.7" y="1279.5">10</text><text x="866.3" y="1279.5">12</text>
<text x="986.9" y="1279.5">14</text><text x="1107.5" y="1279.5">16</text><text x="1228.1" y="1279.5">18</text>
<text x="1348.7" y="1279.5">20</text><text x="1469.3" y="1279.5">22</text><text x="1589.9" y="1279.5">24</text>
<text x="1710.5" y="1279.5">26</text><text x="1831.1" y="1279.5">28</text><text x="1951.7" y="1279.5">30</text>
</g>
<g font-size="32" fill="#3e6e6c" text-anchor="end">
<text x="142" y="1355">40</text><text x="142" y="1445.5">30</text><text x="142" y="1536">20</text>
<text x="142" y="1628">10</text><text x="142" y="1707.5">0</text>
</g>
<g font-size="32" fill="#6a4c9e">
<text x="2034" y="1322">360</text><text x="2034" y="1414.5">270</text><text x="2034" y="1516.5">180</text>
<text x="2034" y="1619">90</text><text x="2034" y="1709">0</text>
</g>
<text transform="translate(59.5,1495) rotate(-90)" font-size="30" fill="#3e6e6c" text-anchor="middle" dominant-baseline="central" textLength="385" lengthAdjust="spacingAndGlyphs">Скорость ветра (km/h)</text>
<text transform="translate(2121,1499) rotate(-90)" font-size="30" fill="#6a4c9e" text-anchor="middle" dominant-baseline="central" textLength="351" lengthAdjust="spacingAndGlyphs">Направление ветра °</text>
<!-- direction arrows -->
<g stroke="#6a4c9e" stroke-width="3.2" fill="#6a4c9e">
<line x1="2185" y1="1246" x2="2185" y2="1284"/><polygon stroke="none" points="2177,1280 2193,1280 2185,1297"/>
<line x1="2155" y1="1397" x2="2203" y2="1397"/><polygon stroke="none" points="2199,1389 2199,1405 2216,1397"/>
<line x1="2185" y1="1550" x2="2185" y2="1512"/><polygon stroke="none" points="2177,1516 2193,1516 2185,1499"/>
<line x1="2216" y1="1604" x2="2168" y2="1604"/><polygon stroke="none" points="2172,1596 2172,1612 2155,1604"/>
<line x1="2185" y1="1659" x2="2185" y2="1697"/><polygon stroke="none" points="2177,1693 2193,1693 2185,1710"/>
</g>
</svg>
</body></html>
